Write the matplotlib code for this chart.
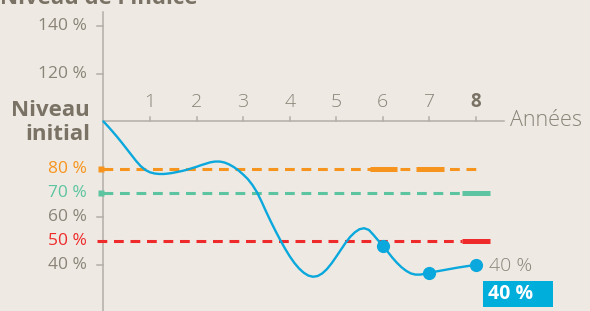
import matplotlib
matplotlib.use("Agg")
import matplotlib.pyplot as plt
from matplotlib.patches import Rectangle

plt.rcParams['font.family'] = ['Open Sans', 'DejaVu Sans']

# ---- data ----
years_curve = [0.0, 0.1, 0.2, 0.3, 0.4, 0.5, 0.6, 0.7, 0.8, 0.9,
               1.0, 1.1, 1.2, 1.3, 1.4, 1.5, 1.6, 1.7, 1.8, 1.9,
               2.0, 2.1, 2.2, 2.3, 2.4, 2.5, 2.6, 2.7, 2.8, 2.9,
               3.0, 3.1, 3.2, 3.3, 3.4, 3.5, 3.6, 3.7, 3.8, 3.9,
               4.0, 4.1, 4.2, 4.3, 4.4, 4.5, 4.6, 4.7, 4.8, 4.9,
               5.0, 5.1, 5.2, 5.3, 5.4, 5.5, 5.6, 5.7, 5.8, 5.9,
               6.0, 6.1, 6.2, 6.3, 6.4, 6.5, 6.6, 6.7, 6.8, 6.9,
               7.0, 7.2, 7.4, 7.6, 7.8, 8.0]
index_curve = [100.0, 97.9, 95.7, 93.4, 91.0, 88.5, 86.0, 83.5, 81.3, 79.7,
               78.7, 78.2, 78.0, 78.0, 78.2, 78.5, 78.9, 79.3, 79.8, 80.4,
               81.0, 81.7, 82.3, 82.9, 83.2, 83.2, 82.8, 82.0, 80.9, 79.5,
               77.8, 75.9, 73.4, 70.3, 66.3, 62.0, 57.9, 54.0, 50.3, 46.8,
               43.6, 40.8, 38.5, 36.7, 35.5, 35.0, 35.3, 36.4, 38.2, 40.6,
               43.4, 46.3, 49.2, 51.7, 53.6, 54.9, 55.3, 54.6, 52.5, 50.2,
               48.0, 45.6, 43.1, 40.9, 39.0, 37.5, 36.4, 35.9, 35.9, 36.2,
               36.7, 37.4, 38.1, 38.8, 39.4, 40.0]
obs_years = [6, 7, 8]
obs_values = [48.0, 36.7, 40.0]

x_ticks = [1, 2, 3, 4, 5, 6, 7, 8]
y_labels = [140, 120, 80, 70, 60, 50, 40]
y_label_colors = ['#8a8378', '#8a8378', '#f7941d', '#5cc4a0', '#8a8378', '#ee2a2a', '#8a8378']
y_ticks_grey = [140, 120, 60, 40]

barrier_levels = [80, 70, 50]
barrier_colors = ['#f7941d', '#5cc4a0', '#ee2a2a']
barrier_dash_end = [8.0, 7.7, 7.7]
barrier_dash_start = [0.0, 0.0, -0.13]
barrier_squares = [True, True, False]
# thick segments (year start, year end) for each barrier
barrier_thick = [[(5.72, 6.3), (6.72, 7.32)], [(7.7, 8.3)], [(7.7, 8.3)]]

final_value = 40

# ---- figure ----
BG = '#eeeae3'
GREY = '#8a8378'
DARK = '#7a7265'
AXC = '#b3afa8'
BLUE = '#0aa8dc'

fig = plt.figure(figsize=(5.9, 3.11), dpi=100, facecolor=BG)
ax = fig.add_axes([0, 0, 1, 1])
ax.set_facecolor(BG)
ax.set_xlim(-2.220, 10.449)
ax.set_ylim(20.67, 150.79)
ax.axis('off')

# axes lines
ax.plot([0, 0], [20.67, 145.9], color=AXC, lw=1.1, zorder=2)
ax.plot([0, 8.6], [100, 100], color=AXC, lw=1.1, zorder=2)
for yt in y_ticks_grey:
    ax.plot([-0.137, 0], [yt, yt], color=AXC, lw=1.1, zorder=2)
for xt in x_ticks:
    ax.plot([xt, xt], [100, 101.9], color=AXC, lw=1.1, zorder=2)
    ax.text(xt, 108.3, str(xt), ha='center', va='center',
            fontsize=14 if xt != 8 else 13.5,
            fontweight='light' if xt != 8 else 'bold',
            color=GREY if xt != 8 else DARK)

ax.text(8.73, 100.3, 'Années', ha='left', va='center', fontsize=15.5,
        fontweight='light', color=GREY)

# y labels
for v, c in zip(y_labels, y_label_colors):
    ax.text(-0.36, v, f'{v} %', ha='right', va='center', fontsize=12.5,
            fontweight='normal', color=c)

ax.text(-0.29, 99.5, 'Niveau\ninitial', ha='right', va='center', fontsize=16,
        fontweight='bold', color=DARK, linespacing=1.2, multialignment='right')

ax.text(-2.22, 149.1, "Niveau de l'indice", ha='left', va='baseline',
        fontsize=16, fontweight='bold', color=DARK)

# barriers
for lvl, col, xs, xe, sq, thick in zip(barrier_levels, barrier_colors, barrier_dash_start,
                                        barrier_dash_end, barrier_squares, barrier_thick):
    ax.plot([xs, xe], [lvl, lvl], color=col, lw=2.2, dashes=(3.2, 2.2), zorder=3,
            solid_capstyle='butt', dash_capstyle='butt')
    if sq:
        ax.plot([-0.05], [lvl], marker='s', ms=4.5, color=col, zorder=3, mec='none')
    for a, b in thick:
        ax.plot([a, b], [lvl, lvl], color=col, lw=3.6, zorder=3, solid_capstyle='butt')

# curve
ax.plot(years_curve, index_curve, color=BLUE, lw=1.7, zorder=4,
        solid_joinstyle='round', solid_capstyle='round')
ax.plot(obs_years, obs_values, ls='none', marker='o', ms=9.5, color=BLUE,
        mec='none', zorder=5)

# final labels
ax.text(8.28, 39.3, f'{final_value} %', ha='left', va='center', fontsize=14,
        fontweight='light', color=GREY)
ax.add_patch(Rectangle((8.15, 22.3), 1.50, 10.9, facecolor='#00aedb',
                       edgecolor='none', zorder=5))
ax.text(8.26, 27.9, f'{final_value} %', ha='left', va='center', fontsize=14,
        fontweight='bold', color='white', zorder=6)

fig.savefig('out.png', dpi=100, facecolor=BG)
